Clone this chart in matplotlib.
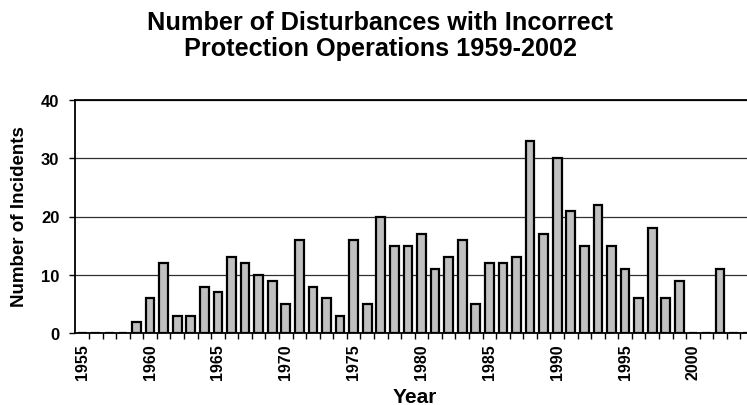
import matplotlib.pyplot as plt
from matplotlib.ticker import MultipleLocator

plt.rcParams["font.family"] = ["Liberation Sans", "DejaVu Sans"]
plt.rcParams["font.weight"] = "bold"

# incidents per year, 1955-2004 (years with no bar are zero)
years = list(range(1955, 2005))
incidents = [
    0, 0, 0, 0, 2, 6, 12, 3, 3, 8,        # 1955-1964
    7, 13, 12, 10, 9, 5, 16, 8, 6, 3,     # 1965-1974
    16, 5, 20, 15, 15, 17, 11, 13, 16, 5,  # 1975-1984
    12, 12, 13, 33, 17, 30, 21, 15, 22, 15,  # 1985-1994
    11, 6, 18, 6, 9, 0, 0, 11, 0, 0,      # 1995-2004
]
label_years = list(range(1955, 2001, 5))

W, H = 747, 406
fig = plt.figure(figsize=(W / 100, H / 100), dpi=100)
# plot box runs a little past the right edge of the figure
ax = fig.add_axes([75.4 / W, (H - 334.3) / H, (754 - 75.4) / W, (334.3 - 100.7) / H])

ax.bar(years, incidents, width=0.64, color="#c0c0c0", edgecolor="black",
       linewidth=1.6, zorder=3)

ax.set_xlim(1954.5, 2004.5)
ax.set_ylim(0, 40)
ax.yaxis.set_major_locator(MultipleLocator(10))
ax.grid(axis="y", color="#303030", linewidth=0.9, zorder=1)

ax.set_xticks(label_years)
ax.set_xticklabels([str(y) for y in label_years], rotation=90, fontsize=11.5,
                   fontweight="bold")
ax.set_xticks([y + 0.5 for y in years[:-1]], minor=True)
ax.tick_params(axis="x", which="major", length=0, pad=7)
ax.tick_params(axis="x", which="minor", length=4.5, width=1.0, color="black")
ax.tick_params(axis="y", length=4.5, width=1.0, labelsize=12, pad=7)
for lbl in ax.get_yticklabels():
    lbl.set_fontweight("bold")

for side in ("left", "bottom", "top"):
    ax.spines[side].set_linewidth(1.3)
    ax.spines[side].set_color("black")
ax.spines["right"].set_visible(False)

fig.text(380 / W, 1 - 11 / H,
         "Number of Disturbances with Incorrect\nProtection Operations 1959-2002",
         ha="center", va="top", fontsize=18.2, fontweight="bold", linespacing=1.1)
fig.text(20 / W, 1 - 217 / H, "Number of Incidents", rotation=90,
         ha="center", va="center", fontsize=13.5, fontweight="bold")
fig.text(415 / W, 1 - 388 / H, "Year", ha="center", va="top",
         fontsize=15, fontweight="bold")

fig.savefig("out.png", dpi=100)
